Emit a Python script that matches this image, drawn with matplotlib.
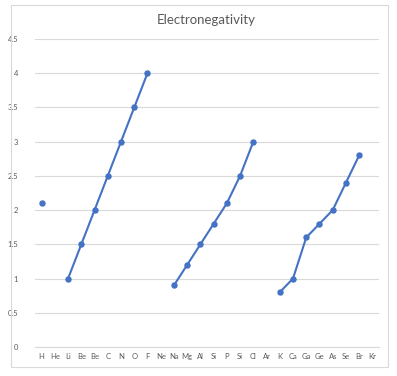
import numpy as np
import matplotlib
matplotlib.use("Agg")
import matplotlib.pyplot as plt
from matplotlib.patches import Rectangle

elements = ["H", "He", "Li", "Be", "Be", "C", "N", "O", "F", "Ne", "Na", "Mg", "Al",
            "Si", "P", "Si", "Cl", "Ar", "K", "Ca", "Ga", "Ge", "As", "Se", "Br", "Kr"]
nan = np.nan
electroneg = [2.1, nan, 1.0, 1.5, 2.0, 2.5, 3.0, 3.5, 4.0, nan, 0.9, 1.2, 1.5,
              1.8, 2.1, 2.5, 3.0, nan, 0.8, 1.0, 1.6, 1.8, 2.0, 2.4, 2.8, nan]
title = "Electronegativity"
yticks = [0, 0.5, 1, 1.5, 2, 2.5, 3, 3.5, 4, 4.5]
ytick_labels = ["0", "0.5", "1", "1.5", "2", "2.5", "3", "3.5", "4", "4.5"]

plt.rcParams['font.family'] = ['Lato', 'DejaVu Sans']

W, H = 397, 376
fig = plt.figure(figsize=(W / 100, H / 100), dpi=100)
fig.patch.set_facecolor("white")
fig.add_artist(Rectangle((11 / W, 1 - 367 / H), (388 - 11) / W, (367 - 5) / H,
                         transform=fig.transFigure, fill=False,
                         edgecolor="#D9D9D9", linewidth=0.8))

ax = fig.add_axes([35 / W, 1 - 347 / H, (379 - 35) / W, (347 - 39) / H])
x = np.arange(len(elements))
ax.plot(x, electroneg, color="#4472C4", linewidth=1.5, marker="o",
        markersize=3.6, zorder=3)

ax.set_xlim(-0.5, len(elements) - 0.5)
ax.set_ylim(0, 4.5)
ax.set_yticks(yticks)
ax.set_yticklabels(ytick_labels)
ax.set_xticks(x)
ax.set_xticklabels(elements)
ax.grid(axis="y", color="#D9D9D9", linewidth=0.8)
ax.set_axisbelow(True)
for s in ["top", "right", "left"]:
    ax.spines[s].set_visible(False)
ax.spines["bottom"].set_color("#D9D9D9")
ax.spines["bottom"].set_linewidth(0.8)
ax.tick_params(axis="both", length=0, labelsize=5.5, colors="#595959", pad=4)
ax.tick_params(axis="y", pad=12)

fig.text(206 / W, 1 - 20 / H, title, ha="center", va="center",
         fontsize=9.5, color="#595959")

fig.savefig("out.png", dpi=100, facecolor="white")
